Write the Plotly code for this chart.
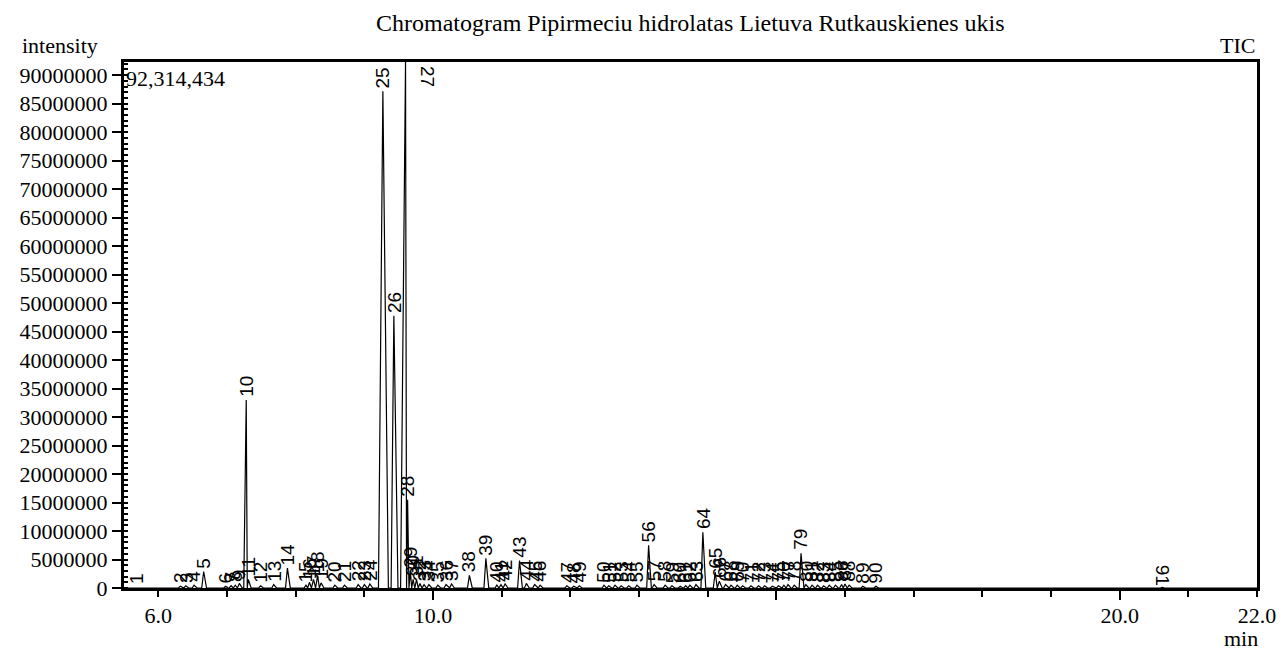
import plotly.graph_objects as go

# ---------------- data ----------------
title_text = "Chromatogram Pipirmeciu hidrolatas Lietuva Rutkauskienes ukis"
peak_ids = list(range(1, 92))
peak_rt = [
    5.69, 6.32, 6.40, 6.52, 6.66, 6.98, 7.06, 7.12, 7.18, 7.28,
    7.31, 7.49, 7.68, 7.88, 8.15, 8.20, 8.26, 8.32, 8.37, 8.57,
    8.71, 8.91, 9.00, 9.08, 9.27, 9.43, 9.60, 9.63, 9.67, 9.71,
    9.76, 9.81, 9.87, 9.94, 10.07, 10.19, 10.27, 10.53, 10.77, 10.93,
    10.99, 11.05, 11.26, 11.36, 11.48, 11.56, 11.95, 12.05, 12.13, 12.49,
    12.56, 12.65, 12.74, 12.85, 12.97, 13.14, 13.22, 13.38, 13.48, 13.60,
    13.68, 13.74, 13.83, 13.93, 14.11, 14.17, 14.26, 14.34, 14.43, 14.51,
    14.63, 14.74, 14.83, 14.94, 15.03, 15.11, 15.17, 15.26, 15.36, 15.43,
    15.52, 15.60, 15.69, 15.77, 15.86, 15.95, 16.00, 16.06, 16.26, 16.45,
    20.62,
]
peak_height = [
    0.1e6, 0.3e6, 0.4e6, 0.5e6, 2.9e6, 0.3e6, 0.4e6, 0.5e6, 0.8e6, 33.0e6,
    1.5e6, 0.4e6, 0.6e6, 3.5e6, 0.5e6, 1.0e6, 1.5e6, 2.2e6, 0.9e6, 0.5e6,
    0.5e6, 0.6e6, 0.6e6, 0.7e6, 87.2e6, 47.8e6, 92314434, 15.5e6, 3.0e6, 1.5e6,
    1.5e6, 0.8e6, 0.6e6, 0.6e6, 0.5e6, 0.6e6, 0.7e6, 2.2e6, 5.2e6, 0.5e6,
    0.6e6, 0.7e6, 4.8e6, 0.8e6, 0.6e6, 0.5e6, 0.4e6, 0.3e6, 0.4e6, 0.5e6,
    0.4e6, 0.5e6, 0.4e6, 0.4e6, 0.5e6, 7.5e6, 0.6e6, 0.5e6, 0.4e6, 0.3e6,
    0.4e6, 0.5e6, 0.6e6, 9.8e6, 2.8e6, 1.2e6, 0.6e6, 0.5e6, 0.5e6, 0.4e6,
    0.4e6, 0.4e6, 0.4e6, 0.3e6, 0.4e6, 0.5e6, 0.6e6, 0.5e6, 6.1e6, 0.6e6,
    0.5e6, 0.5e6, 0.4e6, 0.5e6, 0.5e6, 0.6e6, 0.7e6, 0.5e6, 0.3e6, 0.3e6,
    0.1e6,
]
y_max = 92314434
y_tick_values = [i * 5000000 for i in range(19)]
y_tick_labels = [str(v) for v in y_tick_values]
x_minor_ticks = list(range(6, 23))
x_tick_labels = {6: "6.0", 10: "10.0", 20: "20.0", 22: "22.0"}
x_long_ticks = [10, 15, 20]

# ---------------- styles ----------------
SERIF = "Liberation Serif, Times New Roman, serif"
SANS = "Liberation Sans, Arial, sans-serif"
default_halfwidth = 0.035
halfwidth_override = {10: 0.045, 25: 0.08, 26: 0.05, 27: 0.09, 28: 0.03}

# build the trace from the peak list (apex plus two feet per peak)
xs, ys = [], []
n = len(peak_rt)
for i in range(n):
    w = halfwidth_override.get(peak_ids[i], default_halfwidth)
    left_gap = (peak_rt[i] - peak_rt[i - 1]) / 2 if i > 0 else w
    right_gap = (peak_rt[i + 1] - peak_rt[i]) / 2 if i < n - 1 else w
    wl = min(w * 0.8, left_gap)
    wr = min(w * 1.2, right_gap)
    xs += [peak_rt[i] - wl, peak_rt[i], peak_rt[i] + wr]
    ys += [0, peak_height[i], 0]
xs = [5.5] + xs + [22.0]
ys = [0] + ys + [0]

fig = go.Figure()
fig.add_trace(go.Scatter(x=xs, y=ys, mode="lines",
                         line=dict(color="black", width=1.2),
                         hoverinfo="skip", showlegend=False))
# invisible trace to hold the overlay axis for long ticks
fig.add_trace(go.Scatter(x=[5.5, 22.0], y=[0, 0], xaxis="x2", mode="lines",
                         line=dict(width=0), hoverinfo="skip", showlegend=False))

annotations = []
for pid, rt, h in zip(peak_ids, peak_rt, peak_height):
    if pid == 27:
        annotations.append(dict(x=rt, y=1, xref="x", yref="paper", text=str(pid),
                                textangle=90, showarrow=False, xanchor="center",
                                yanchor="top", xshift=22, yshift=-2,
                                font=dict(family=SANS, size=19, color="black")))
    elif pid == 91:
        annotations.append(dict(x=rt, y=h, text=str(pid), textangle=90,
                                showarrow=False, xanchor="center", yanchor="bottom",
                                font=dict(family=SANS, size=19, color="black")))
    else:
        annotations.append(dict(x=rt, y=h, text=str(pid), textangle=-90,
                                showarrow=False, xanchor="center", yanchor="bottom",
                                yshift=1,
                                font=dict(family=SANS, size=19, color="black")))

annotations += [
    dict(x=0.5, y=1, xref="paper", yref="paper", text=title_text, showarrow=False,
         xanchor="center", yanchor="bottom", yshift=24,
         font=dict(family=SERIF, size=24, color="black")),
    dict(x=0, y=1, xref="paper", yref="paper", text="intensity", showarrow=False,
         xanchor="right", yanchor="bottom", xshift=-24, yshift=2,
         font=dict(family=SERIF, size=22, color="black")),
    dict(x=1, y=1, xref="paper", yref="paper", text="TIC", showarrow=False,
         xanchor="right", yanchor="bottom", yshift=2,
         font=dict(family=SERIF, size=22, color="black")),
    dict(x=1, y=0, xref="paper", yref="paper", text="min", showarrow=False,
         xanchor="center", yanchor="top", xshift=-16, yshift=-36,
         font=dict(family=SERIF, size=22, color="black")),
    dict(x=0, y=1, xref="paper", yref="paper", text=f"{y_max:,}", showarrow=False,
         xanchor="left", yanchor="top", xshift=0, yshift=-2,
         font=dict(family=SERIF, size=22, color="black")),
]

fig.update_layout(
    width=1280, height=644,
    margin=dict(l=108, r=22, t=54, b=64),
    paper_bgcolor="white", plot_bgcolor="white",
    showlegend=False,
    annotations=annotations,
    xaxis=dict(range=[5.5, 22.0], tickvals=x_minor_ticks,
               ticktext=[x_tick_labels.get(v, "") for v in x_minor_ticks],
               ticks="outside", ticklen=6, tickwidth=2, tickcolor="black",
               showline=True, linewidth=3, linecolor="black", mirror=True,
               showgrid=False, zeroline=False,
               tickfont=dict(family=SERIF, size=22, color="black")),
    xaxis2=dict(range=[5.5, 22.0], overlaying="x", anchor="y", side="bottom",
                tickvals=x_long_ticks, ticks="outside", ticklen=11, tickwidth=2,
                tickcolor="black", showticklabels=False, showline=False,
                showgrid=False, zeroline=False),
    yaxis=dict(range=[0, y_max], tickvals=y_tick_values, ticktext=y_tick_labels,
               ticks="outside", ticklen=9, tickwidth=2, tickcolor="black",
               minor=dict(dtick=1000000, ticks="inside", ticklen=4, tickwidth=2,
                          tickcolor="black", showgrid=False),
               showline=True, linewidth=3, linecolor="black", mirror=True,
               showgrid=False, zeroline=False,
               tickfont=dict(family=SERIF, size=22, color="black")),
)

fig.write_html("out.html")
